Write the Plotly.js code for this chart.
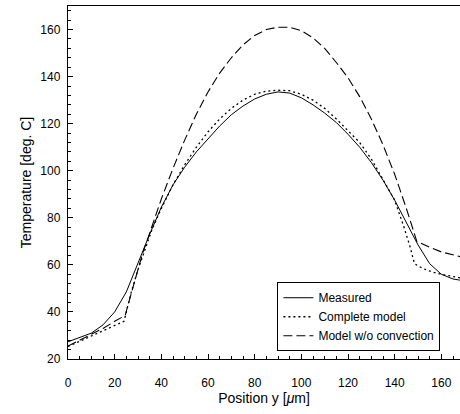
<!DOCTYPE html>
<html>
<head>
<meta charset="utf-8">
<script src="https://cdn.plot.ly/plotly-3.0.1.min.js"></script>
<style>html,body{margin:0;padding:0;background:#fff;}#chart{width:460px;height:414px;}</style>
</head>
<body>
<div id="chart"></div>
<script>
// Measured
const measuredX = [0,5,10,15,20,25,30,35,40,45,50,55,60,65,70,75,80,85,90,95,100,105,110,115,120,125,130,135,140,145,150,155,160,165,168];
const measuredY = [27.3,29,31,34.5,40,48.5,61,73,84.5,94,101.5,108,113.5,119,123.8,127.5,130.5,132.5,133.5,133,131,128,124.5,120.5,115.5,110,103.5,96,87.5,78,68.5,60.5,56,54,53.5];
// Complete model
const completeX = [0,5,10,15,20,24,25,27,30,33,36,40,45,50,55,60,65,70,75,80,85,90,95,100,105,110,115,120,125,130,135,140,144,146.5,148.5,152,156,160,168];
const completeY = [25.3,27.5,29.7,31.8,34,36,40,48,58,67,75,84,94,102.5,110,116.5,122,126.5,130,132.5,133.8,134.2,134,132.5,130,126.5,122,117,112,105,96.5,87.5,76,68,60.5,58.5,57,56,54.5];
// Model w/o convection
const noConvX = [0,5,10,15,20,22,24.5,27,30,32,35,40,45,50,55,60,65,70,75,80,85,90,95,100,105,110,115,120,125,130,135,140,145,149.5,155,160,168];
const noConvY = [25.5,28,30.5,33,36,37,38.5,47.5,58,65,73.5,88,101,113,124,133.5,141.5,148,153.5,157.5,160,161,161,159.5,156.5,152,146,139.5,131.5,122,111,98.5,84,70,67.5,65.5,63.5];

const names = ['Measured','Complete model','Model w/o convection'];
const xTickVals = [0,20,40,60,80,100,120,140,160];
const yTickVals = [20,40,60,80,100,120,140,160];

const traces = [
  {x: measuredX, y: measuredY, name: names[0], mode:'lines', line:{color:'#000', width:1, dash:'solid'}},
  {x: completeX, y: completeY, name: names[1], mode:'lines', line:{color:'#000', width:1.3, dash:'2px,3px'}},
  {x: noConvX, y: noConvY, name: names[2], mode:'lines', line:{color:'#000', width:1.1, dash:'9px,4px'}}
];

const fam = 'Liberation Sans, Arial, sans-serif';
const layout = {
  width:460, height:414,
  margin:{l:68, r:0, t:6, b:55},
  paper_bgcolor:'#fff', plot_bgcolor:'#fff',
  showlegend:true,
  font:{family:fam, color:'#000', size:12},
  xaxis:{
    range:[0,168], tickvals:xTickVals, ticktext:xTickVals.map(String),
    ticks:'inside', ticklen:5, tickwidth:1, tickcolor:'#000',
    minor:{dtick:5, tick0:0, ticks:'inside', ticklen:3, tickwidth:1, tickcolor:'#000', showgrid:false},
    showline:true, linecolor:'#000', linewidth:1.2, mirror:true,
    showgrid:false, zeroline:false,
    tickfont:{family:fam, size:12, color:'#000'},
    ticklabelstandoff:12,
    title:{text:'Position y [<i>μ</i>m]', font:{family:fam, size:14, color:'#000'}, standoff:3}
  },
  yaxis:{
    range:[20,170], tickvals:yTickVals, ticktext:yTickVals.map(String),
    ticks:'inside', ticklen:5, tickwidth:1, tickcolor:'#000',
    minor:{dtick:4, tick0:20, ticks:'inside', ticklen:3, tickwidth:1, tickcolor:'#000', showgrid:false},
    showline:true, linecolor:'#000', linewidth:1.2,
    showgrid:false, zeroline:false,
    tickfont:{family:fam, size:12, color:'#000'},
    ticklabelstandoff:4,
    title:{text:'Temperature [deg. C]', font:{family:fam, size:14, color:'#000'}, standoff:5}
  },
  legend:{
    x:0.95, y:0.022, xanchor:'right', yanchor:'bottom',
    bgcolor:'#fff', bordercolor:'#000', borderwidth:1,
    font:{family:fam, size:12, color:'#000'},
    tracegroupgap:0, itemwidth:30
  }
};
Plotly.newPlot('chart', traces, layout, {displayModeBar:false, staticPlot:true});
</script>
</body>
</html>
